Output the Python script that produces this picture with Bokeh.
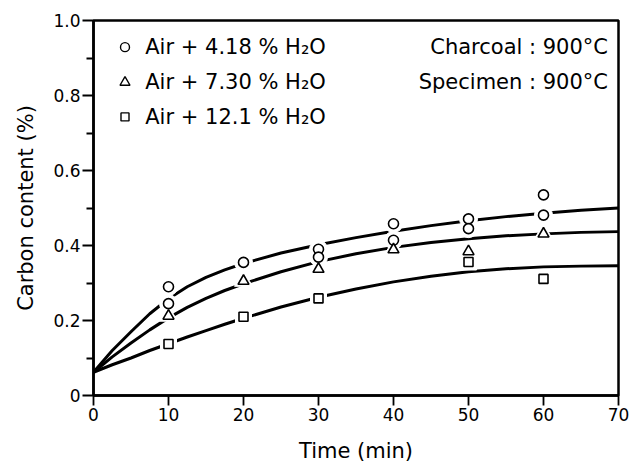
from bokeh.plotting import figure
from bokeh.models import FixedTicker, Range1d
from bokeh.embed import file_html
from bokeh.resources import INLINE
from bokeh.core.properties import value

# Measured carbon content (%) versus time (min)
time_c = [10, 10, 20, 30, 30, 40, 40, 50, 50, 60, 60]
carbon_c = [0.29, 0.245, 0.355, 0.39, 0.369, 0.458, 0.414, 0.471, 0.445, 0.535, 0.481]

time_t = [10, 20, 30, 40, 50, 60]
carbon_t = [0.212, 0.305, 0.337, 0.389, 0.384, 0.431]

time_s = [10, 20, 30, 50, 60]
carbon_s = [0.1375, 0.21, 0.259, 0.356, 0.311]

# Fitted curves, read at regular times
curve_time = [0, 2.5, 5, 7.5, 10, 12.5, 15, 17.5, 20, 25, 30, 35, 40, 45, 50, 55, 60, 65, 70]
curve_c = [0.062, 0.12, 0.17, 0.218, 0.258, 0.29, 0.315, 0.335, 0.352, 0.38, 0.402,
           0.421, 0.438, 0.453, 0.466, 0.477, 0.486, 0.494, 0.50]
curve_t = [0.062, 0.103, 0.14, 0.175, 0.207, 0.235, 0.259, 0.28, 0.298, 0.33, 0.357,
           0.378, 0.395, 0.408, 0.418, 0.426, 0.431, 0.435, 0.437]
curve_s = [0.062, 0.082, 0.1, 0.12, 0.138, 0.156, 0.173, 0.19, 0.206, 0.236, 0.262,
           0.284, 0.303, 0.318, 0.33, 0.338, 0.343, 0.345, 0.346]

legend_labels = ["Air + 4.18 % H\u2082O", "Air + 7.30 % H\u2082O", "Air + 12.1 % H\u2082O"]
note_labels = ["Charcoal : 900\u00b0C", "Specimen : 900\u00b0C"]

x_ticks = [0, 10, 20, 30, 40, 50, 60, 70]
y_ticks = [0, 0.2, 0.4, 0.6, 0.8, 1.0]
y_minor = [0.1, 0.3, 0.5, 0.7, 0.9]
y_tick_text = ["0", "0.2", "0.4", "0.6", "0.8", "1.0"]

FONT = "DejaVu Sans"

p = figure(width=629, height=469, output_backend="svg", toolbar_location=None,
           x_range=Range1d(0, 70), y_range=Range1d(0, 1.0),
           min_border_left=93, min_border_right=11, min_border_top=20,
           min_border_bottom=74)
p.frame_width = 525
p.frame_height = 375
p.background_fill_color = "white"
p.border_fill_color = "white"
p.outline_line_color = "black"
p.outline_line_width = 2.5
p.xgrid.visible = False
p.ygrid.visible = False

# axes
xa = p.xaxis[0]
xa.ticker = FixedTicker(ticks=x_ticks)
xa.axis_label = "Time (min)"
ya = p.yaxis[0]
ya.ticker = FixedTicker(ticks=y_ticks, minor_ticks=y_minor)
ya.major_label_overrides = {t: s for t, s in zip(y_ticks, y_tick_text)}
ya.axis_label = "Carbon content (%)"
for ax in (xa, ya):
    ax.axis_line_width = 2.5
    ax.axis_line_color = "black"
    ax.major_tick_line_width = 1.8
    ax.minor_tick_line_width = 1.8
    ax.major_tick_in = 0
    ax.minor_tick_in = 0
    ax.major_label_text_font = FONT
    ax.major_label_text_font_size = "17px"
    ax.major_label_text_color = "black"
    ax.axis_label_text_font = FONT
    ax.axis_label_text_font_size = "21px"
    ax.axis_label_text_font_style = "normal"
    ax.axis_label_text_color = "black"
xa.major_tick_out = 10
xa.minor_tick_out = 0
xa.major_label_standoff = 2
xa.axis_label_standoff = 15
ya.major_tick_out = 11
ya.minor_tick_out = 7
ya.major_label_standoff = 2
ya.axis_label_standoff = 12

# fitted curves
for cy in (curve_c, curve_t, curve_s):
    p.line(curve_time, cy, line_color="black", line_width=3, line_join="round")

# white halos break the curves around the symbols
p.scatter(time_c, carbon_c, marker="circle", size=18, fill_color="white", line_color="white")
p.scatter(time_t, carbon_t, marker="triangle", size=18, fill_color="white", line_color="white")
p.scatter(time_s, carbon_s, marker="square", size=16, fill_color="white", line_color="white")

# data symbols
p.scatter(time_c, carbon_c, marker="circle", size=10, fill_color="white",
          line_color="black", line_width=1.6)
p.scatter(time_t, carbon_t, marker="triangle", size=11, fill_color="white",
          line_color="black", line_width=1.6)
p.scatter(time_s, carbon_s, marker="square", size=9, fill_color="white",
          line_color="black", line_width=1.6)

# key
key_y = [0.929, 0.835, 0.743]
key_markers = ["circle", "triangle", "square"]
key_sizes = [9, 10, 8]
for yy, mk, sz, lab in zip(key_y, key_markers, key_sizes, legend_labels):
    p.scatter([4.2], [yy], marker=mk, size=sz, fill_color="white",
              line_color="black", line_width=1.4)
    p.text([6.9], [yy], text=[lab], text_font=value(FONT), text_font_size="21px",
           text_baseline="middle", text_align="left", text_color="black")

p.text([68.6] * 2, key_y[:2], text=note_labels, text_font=value(FONT),
       text_font_size="21px", text_baseline="middle", text_align="right",
       text_color="black")

open("out.html", "w").write(file_html(p, INLINE))
